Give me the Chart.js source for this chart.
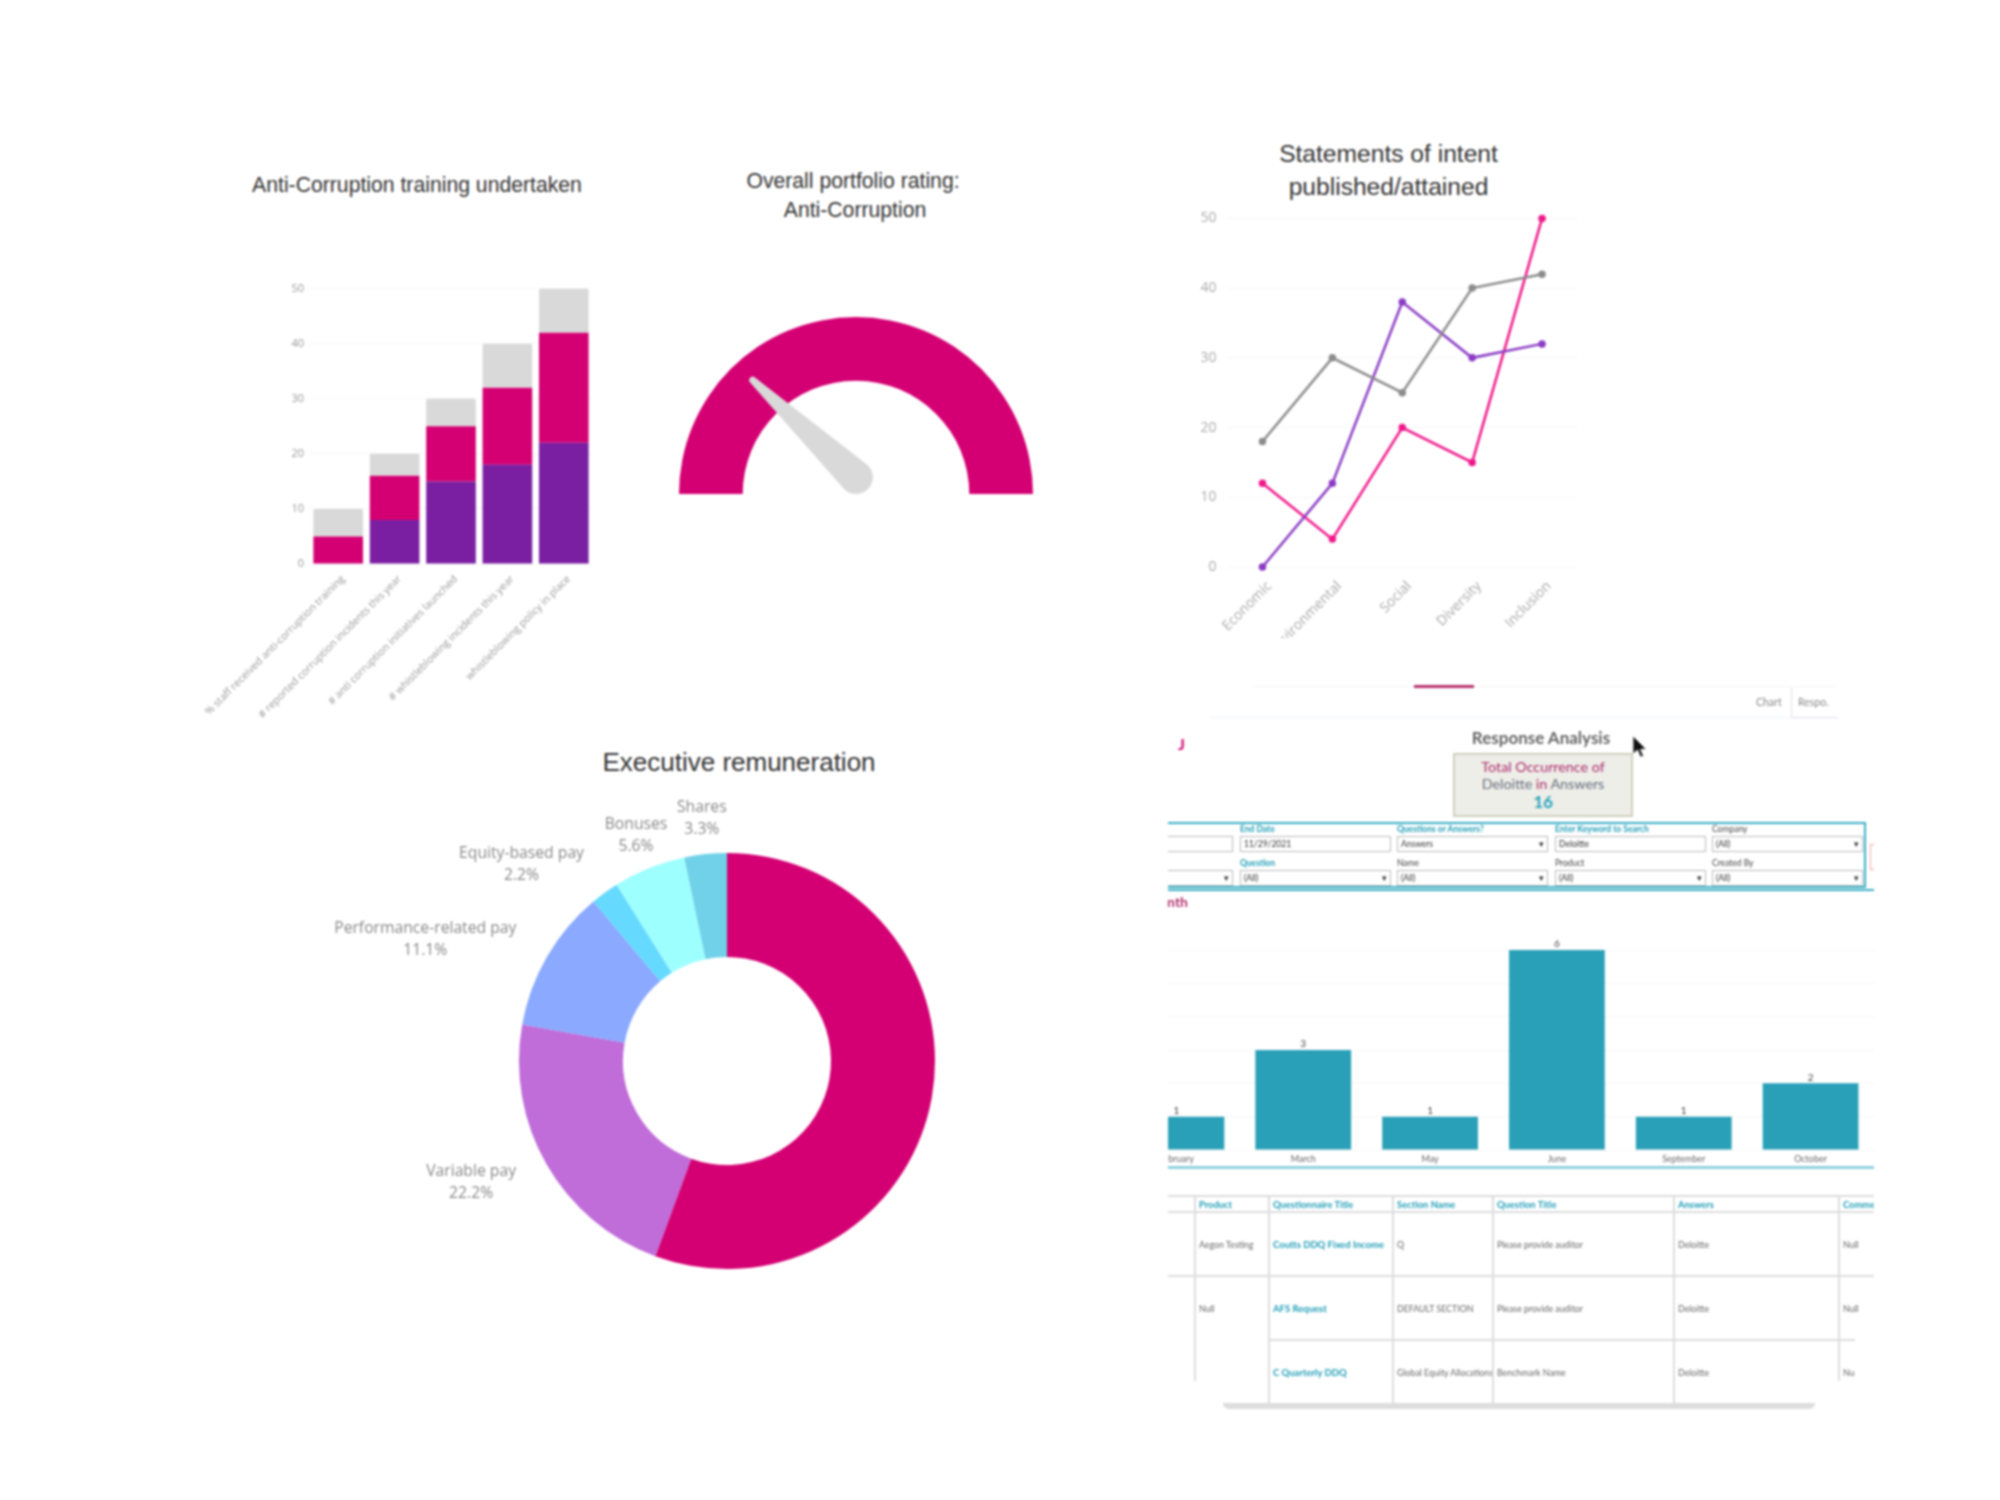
<!DOCTYPE html>
<html lang="en">
  <head>
    <meta charset="UTF-8" />
    <title>ESG dashboard</title>
    <script src="https://cdn.jsdelivr.net/npm/chart.js"></script>
    <style>
      html, body { margin: 0; background: #fff; }
      body { width: 2000px; height: 1500px; position: relative; overflow: hidden; filter: blur(0.8px); font-family: "Lato", sans-serif; }
      canvas { position: absolute; }
      .title { position: absolute; transform: translate(-50%, -50%); text-align: center; white-space: nowrap; font-family: "Liberation Sans", sans-serif; color: #333; }
      .abs { position: absolute; white-space: nowrap; }
      .lbl { font-size: 8.5px; color: #444; }
      .teal { color: #1f9db6; font-weight: 700; }
      .inp { position: absolute; height: 14px; background: #fff; border: 1.5px solid #bbb; font-size: 8.5px; line-height: 14px; padding-left: 3px; color: #333; box-sizing: content-box; }
      .inp.drop::after { content: "▾"; position: absolute; right: 3px; top: 0; font-size: 9px; }
      #panel { position: absolute; left: -8px; top: -5px; width: 2008px; height: 1505px; clip-path: inset(0 0 0 1176px); }
      #tableWrap { position: absolute; left: 1173px; top: 1200px; width: 709px; height: 212px; overflow: hidden;
        clip-path: polygon(0 0, 709px 0, 709px 128px, 690px 132px, 690px 184px, 650px 188px, 650px 212px, 58px 212px, 58px 186px, 0 186px); }
      table { border-collapse: collapse; table-layout: fixed; width: 760px; font-size: 8.8px; color: #666; }
      th, td { border: 2px solid #ddd; text-align: left; padding: 0 3px; overflow: hidden; white-space: nowrap; }
      th { height: 14px; color: #1f9db6; font-weight: 700; font-size: 9.4px; border-top: 2px solid #ddd; }
      td { height: 62px; }
      td.link { color: #1f9db6; font-weight: 700; font-size: 9.5px; }
    </style>
  </head>
  <body>
    <div class="title" style="left: 417px; top: 184.5px; font-size: 21.2px">Anti-Corruption training undertaken</div>
    <div class="title" style="left: 853px; top: 194.5px; font-size: 21.2px; line-height: 29px">Overall portfolio rating:<br /><span style="position: relative; left: 2px">Anti-Corruption</span></div>
    <div class="title" style="left: 1388.5px; top: 170px; font-size: 24.6px; line-height: 33px">Statements of intent<br />published/attained</div>
    <div class="title" style="left: 739px; top: 762px; font-size: 26px">Executive remuneration</div>

    <canvas id="trainingChart" width="420" height="482" style="left: 180px; top: 276px"></canvas>
    <canvas id="gaugeChart" width="354" height="177" style="left: 679px; top: 317px"></canvas>
    <canvas id="statementsChart" width="410" height="439" style="left: 1190px; top: 199px"></canvas>
    <canvas id="payChart" width="660" height="580" style="left: 297px; top: 777px"></canvas>

    <!-- screenshot panel, bottom right -->
    <div id="panel">
      <div class="abs" style="left: 1262px; top: 691px; width: 584px; height: 1px; background: #f2f5f8"></div>
      <div class="abs" style="left: 1422px; top: 690px; width: 60px; height: 3px; background: #b8306e"></div>
      <div class="abs" style="left: 1218px; top: 722px; width: 620px; height: 1px; background: #f0f3f6"></div>
      <div class="abs" style="left: 1799px; top: 693px; width: 46px; height: 29px; border-left: 1px solid #dde; border-bottom: 1px solid #dde"></div>
      <div class="abs" style="left: 1764px; top: 701px; font-size: 10.5px; color: #888">Chart</div>
      <div class="abs" style="left: 1806px; top: 701px; font-size: 10.5px; color: #888">Respo.</div>
      <div class="abs" style="left: 1186px; top: 739px; font-size: 16px; font-weight: 700; color: #d40073">J</div>
      <div class="abs" style="left: 1549px; top: 742px; transform: translate(-50%, -50%); font-size: 17px; font-weight: 700; color: #666">Response Analysis</div>
      <div class="abs" style="left: 1461px; top: 758px; width: 176px; height: 60px; background: #eeeee9; border: 2px solid #cfcfbc; text-align: center; font-size: 14.3px; line-height: 17px; color: #6b7380">
        <div style="margin-top: 3px; color: #b0306e">Total Occurrence of</div>
        <div>Deloitte <span style="color: #b0306e">in</span> Answers</div>
        <div style="font-size: 17px; font-weight: 700; color: #2aa5bd; line-height: 20px">16</div>
      </div>
      <svg class="abs" style="left: 1640px; top: 740px" width="20" height="26" viewBox="0 0 20 26">
        <path d="M1 1 L1 19 L5.5 15 L8.5 22 L11.5 21 L8.5 14.5 L14 14 Z" fill="#111" stroke="#ddd" stroke-width="1" />
      </svg>

      <div class="abs" style="left: 1173px; top: 827px; width: 699px; height: 62px; border: 2px solid #3aafc5; border-left: none"></div>
      <div class="abs" style="left: 1173px; top: 894px; width: 709px; height: 2px; background: #3aafc5"></div>
      <div class="abs" style="left: 1878px; top: 849px; width: 3px; height: 24px; border: 1px solid #f6a6a6; border-right: none"></div>

      <div class="inp" style="left: 1173px; top: 841px; width: 63px"></div>
      <div class="inp drop" style="left: 1173px; top: 875px; width: 63px"></div>
      <div class="abs lbl teal" style="left: 1248px; top: 829px">End Date</div>
      <div class="inp" style="left: 1248px; top: 841px; width: 146px">11/29/2021</div>
      <div class="abs lbl teal" style="left: 1248px; top: 863px">Question</div>
      <div class="inp drop" style="left: 1248px; top: 875px; width: 146px">(All)</div>
      <div class="abs lbl teal" style="left: 1405px; top: 829px">Questions or Answers?</div>
      <div class="inp drop" style="left: 1405px; top: 841px; width: 146px">Answers</div>
      <div class="abs lbl" style="left: 1405px; top: 863px">Name</div>
      <div class="inp drop" style="left: 1405px; top: 875px; width: 146px">(All)</div>
      <div class="abs lbl teal" style="left: 1563px; top: 829px">Enter Keyword to Search</div>
      <div class="inp" style="left: 1563px; top: 841px; width: 146px">Deloitte</div>
      <div class="abs lbl" style="left: 1563px; top: 863px">Product</div>
      <div class="inp drop" style="left: 1563px; top: 875px; width: 146px">(All)</div>
      <div class="abs lbl" style="left: 1720px; top: 829px">Company</div>
      <div class="inp drop" style="left: 1720px; top: 841px; width: 146px">(All)</div>
      <div class="abs lbl" style="left: 1720px; top: 863px">Created By</div>
      <div class="inp drop" style="left: 1720px; top: 875px; width: 146px">(All)</div>

      <div class="abs" style="left: 1176px; top: 898px; width: 20px; overflow: hidden; font-size: 14px; font-weight: 700; color: #b0306e; direction: rtl">nth</div>

      <div id="monthWrap" class="abs" style="left: 1173px; top: 940px; width: 709px; height: 232px; overflow: hidden">
        <canvas id="monthChart" width="761" height="232" style="left: -52px; top: 0"></canvas>
      </div>
      <div class="abs" style="left: 1173px; top: 1171px; width: 709px; height: 3px; background: #8fd2de"></div>

      <div id="tableWrap">
        <table style="margin-left: 0">
          <colgroup>
            <col style="width: 30px" /><col style="width: 74px" /><col style="width: 124px" /><col style="width: 100px" /><col style="width: 181px" /><col style="width: 165px" /><col style="width: 86px" />
          </colgroup>
          <tr>
            <th style="border-left: none"></th><th>Product</th><th>Questionnaire Title</th><th>Section Name</th><th>Question Title</th><th>Answers</th><th>Comments</th>
          </tr>
          <tr>
            <td style="border-left: none"></td><td>Aegon Testing</td><td class="link">Coutts DDQ Fixed Income</td><td>Q</td><td>Please provide auditor</td><td>Deloitte</td><td>Null</td>
          </tr>
          <tr>
            <td rowspan="2" style="border-left: none"></td><td rowspan="2" style="vertical-align: top; padding-top: 26px">Null</td><td class="link">AFS Request</td><td>DEFAULT SECTION</td><td>Please provide auditor</td><td>Deloitte</td><td>Null</td>
          </tr>
          <tr>
            <td class="link">C Quarterly DDQ</td><td>Global Equity Allocations</td><td>Benchmark Name</td><td>Deloitte</td><td>Null</td>
          </tr>
        </table>
      </div>
      <div class="abs" style="left: 1231px; top: 1408px; width: 592px; height: 6px; background: #ddd; border-radius: 0 0 8px 8px"></div>
    </div>

    <script>
      // Anti-Corruption training undertaken
      const trainingLabels = [
        "% staff received anti-corruption training",
        "# reported corruption incidents this year",
        "# anti corruption initiatives launched",
        "# whistleblowing incidents this year",
        "whistleblowing policy in place",
      ];
      const trainingPurple = [0, 8, 15, 18, 22];
      const trainingPink = [5, 8, 10, 14, 20];
      const trainingGrey = [5, 4, 5, 8, 8];

      // Gauge
      const gaugeRating = 24;
      const gaugeMax = 100;

      // Statements of intent
      const statementLabels = ["Economic", "Environmental", "Social", "Diversity", "Inclusion"];
      const statementsGrey = [18, 30, 25, 40, 42];
      const statementsPurple = [0, 12, 38, 30, 32];
      const statementsPink = [12, 4, 20, 15, 50];

      // Executive remuneration (first slice carries no label in the picture)
      const payLabels = ["", "Variable pay", "Performance-related pay", "Equity-based pay", "Bonuses", "Shares"];
      const payValues = [55.6, 22.2, 11.1, 2.2, 5.6, 3.3];
      const payColors = ["#d40073", "#c06cd9", "#8aa9ff", "#66d9ff", "#9effff", "#70d1e8"];

      // Response analysis by month
      const monthLabels = ["February", "March", "May", "June", "September", "October"];
      const monthValues = [1, 3, 1, 6, 1, 2];

      const PINK = "#d40073";
      const PURPLE = "#7b1fa2";
      const GREY = "#d9d9d9";
      const faintGrid = "#f6f6f6";

      Chart.defaults.animation = false;
      Chart.defaults.responsive = false;
      Chart.defaults.devicePixelRatio = 1;
      Chart.defaults.layout.autoPadding = false;
      Chart.defaults.plugins.legend.display = false;
      Chart.defaults.plugins.tooltip.enabled = false;
      Chart.defaults.font.family = '"Open Sans", sans-serif';

      new Chart(document.getElementById("trainingChart"), {
        type: "bar",
        data: {
          labels: trainingLabels,
          datasets: [
            { data: trainingPurple, backgroundColor: PURPLE },
            { data: trainingPink, backgroundColor: PINK },
            { data: trainingGrey, backgroundColor: GREY, borderRadius: { topLeft: 2, topRight: 2 } },
          ],
        },
        options: {
          layout: { padding: { top: 3.5, right: 8 } },
          datasets: { bar: { barPercentage: 0.88, categoryPercentage: 1 } },
          scales: {
            x: {
              stacked: true,
              grid: { display: false },
              border: { display: false },
              ticks: { autoSkip: false, minRotation: 45, maxRotation: 45, color: "#999", font: { size: 10.4 }, padding: 1, labelOffset: 5 },
              afterFit(scale) { scale.height = 194; },
            },
            y: {
              stacked: true,
              min: 0,
              max: 50,
              grid: { color: faintGrid, drawTicks: false },
              border: { display: false },
              ticks: { stepSize: 10, color: "#999", font: { size: 11 }, padding: 6 },
              afterFit(scale) { scale.width = 130; },
            },
          },
        },
      });

      // needle is drawn from the arc's own centre and radius
      const needlePlugin = {
        id: "needle",
        afterDatasetsDraw(chart) {
          const arc = chart.getDatasetMeta(0).data[0];
          const R = arc.outerRadius;
          const baseR = R * 0.095;
          const tipR = R * 0.02;
          const len = R * 0.8;
          const angle = Math.PI + (Math.PI * gaugeRating) / gaugeMax;
          const { ctx } = chart;
          ctx.save();
          ctx.translate(arc.x, arc.y - baseR);
          ctx.rotate(angle);
          ctx.fillStyle = GREY;
          ctx.beginPath();
          ctx.arc(0, 0, baseR, Math.PI / 2, -Math.PI / 2);
          ctx.lineTo(len, -tipR);
          ctx.arc(len, 0, tipR, -Math.PI / 2, Math.PI / 2);
          ctx.closePath();
          ctx.fill();
          ctx.restore();
        },
      };

      new Chart(document.getElementById("gaugeChart"), {
        type: "doughnut",
        data: { labels: ["Rating"], datasets: [{ data: [gaugeMax], backgroundColor: PINK, borderWidth: 0 }] },
        options: { rotation: -90, circumference: 180, cutout: "64%" },
        plugins: [needlePlugin],
      });

      new Chart(document.getElementById("statementsChart"), {
        type: "line",
        data: {
          labels: statementLabels,
          datasets: [
            { data: statementsGrey, borderColor: "#8c8c8c", backgroundColor: "#8c8c8c" },
            { data: statementsPurple, borderColor: "#8b3cc4", backgroundColor: "#8b3cc4" },
            { data: statementsPink, borderColor: "#f0188a", backgroundColor: "#f0188a" },
          ],
        },
        options: {
          layout: { padding: { top: 0, right: 23 } },
          datasets: { line: { borderWidth: 2.5, pointRadius: 2.5, tension: 0, clip: false } },
          scales: {
            x: {
              offset: true,
              grid: { display: false },
              border: { display: false },
              ticks: { autoSkip: false, minRotation: 45, maxRotation: 45, color: "#aaa", font: { size: 14 }, padding: 3, labelOffset: 7 },
              afterFit(scale) { scale.height = 71; },
            },
            y: {
              min: 0,
              max: 50,
              grid: { color: faintGrid, drawTicks: false },
              border: { display: false },
              ticks: { stepSize: 10, color: "#aaa", font: { size: 14 }, padding: 11 },
              afterFit(scale) { scale.width = 37.5; },
            },
          },
        },
      });

      // labels sit outside the ring; side ones hang to the left of their anchor
      const payLabelPlugin = {
        id: "payLabels",
        afterDatasetsDraw(chart) {
          const { ctx } = chart;
          ctx.save();
          ctx.font = '15.7px "Open Sans", sans-serif';
          ctx.fillStyle = "#888";
          ctx.textAlign = "center";
          ctx.textBaseline = "middle";
          chart.getDatasetMeta(0).data.forEach((arc, i) => {
            if (!payLabels[i]) return;
            const mid = (arc.startAngle + arc.endAngle) / 2;
            const pct = payValues[i].toFixed(1) + "%";
            const fromTop = Math.abs(Math.atan2(Math.cos(mid), -Math.sin(mid)));
            const w = Math.max(ctx.measureText(payLabels[i]).width, ctx.measureText(pct).width);
            let x = arc.x + Math.cos(mid) * arc.outerRadius * 1.17;
            const y = arc.y + Math.sin(mid) * arc.outerRadius * 1.17;
            if (fromTop > Math.PI / 6) x -= w / 2;
            ctx.fillText(payLabels[i], x, y - 11);
            ctx.fillText(pct, x, y + 11);
          });
          ctx.restore();
        },
      };

      new Chart(document.getElementById("payChart"), {
        type: "doughnut",
        data: { labels: payLabels, datasets: [{ data: payValues, backgroundColor: payColors, borderWidth: 0 }] },
        options: { cutout: "50%", layout: { padding: { left: 222, right: 22, top: 76, bottom: 88 } } },
        plugins: [payLabelPlugin],
      });

      const barValuePlugin = {
        id: "barValues",
        afterDatasetsDraw(chart) {
          const { ctx } = chart;
          ctx.save();
          ctx.font = '10px "Lato", sans-serif';
          ctx.fillStyle = "#444";
          ctx.textAlign = "center";
          ctx.textBaseline = "bottom";
          chart.getDatasetMeta(0).data.forEach((bar, i) => {
            ctx.fillText(monthValues[i], bar.x, bar.y - 1);
          });
          ctx.restore();
        },
      };

      new Chart(document.getElementById("monthChart"), {
        type: "bar",
        data: { labels: monthLabels, datasets: [{ data: monthValues, backgroundColor: "#2aa0b8" }] },
        options: {
          layout: { padding: { top: 15 } },
          datasets: { bar: { barPercentage: 0.755, categoryPercentage: 1 } },
          scales: {
            x: {
              grid: { display: false },
              border: { display: false },
              ticks: { autoSkip: false, maxRotation: 0, color: "#666", font: { family: '"Lato", sans-serif', size: 9 }, padding: -4 },
              afterFit(scale) { scale.height = 17; },
            },
            y: {
              display: true,
              min: 0,
              max: 6,
              grid: { color: faintGrid, drawTicks: false },
              border: { display: false },
              ticks: { display: false, stepSize: 1 },
              afterFit(scale) { scale.width = 0; },
            },
          },
        },
        plugins: [barValuePlugin],
      });
    </script>
  </body>
</html>
